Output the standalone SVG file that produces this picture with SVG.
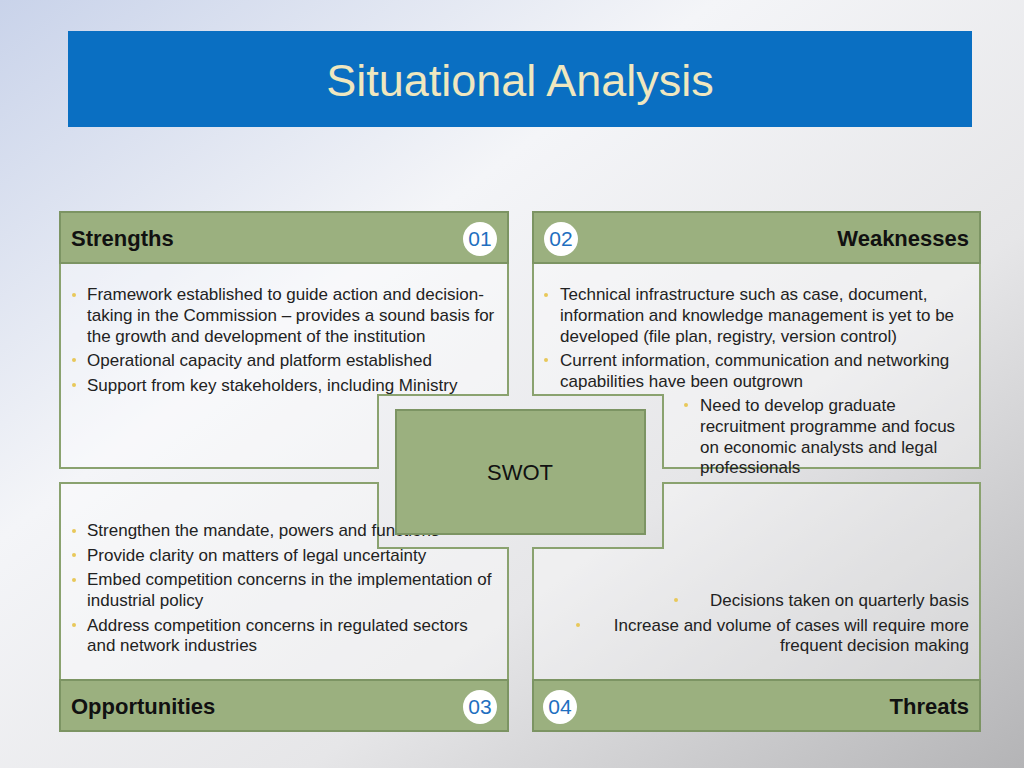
<svg xmlns="http://www.w3.org/2000/svg" width="1024" height="768" viewBox="0 0 1024 768">
<defs>
<linearGradient id="bg" x1="0" y1="0" x2="1" y2="1">
<stop offset="0" stop-color="#c9d3ea"/><stop offset="0.35" stop-color="#f4f5f8"/><stop offset="0.65" stop-color="#e6e6e8"/><stop offset="1" stop-color="#b4b4b6"/>
</linearGradient>
<style>
.hd{fill:#9bb07f;stroke:#7c9463;stroke-width:2}
.bd{fill:#ffffff;fill-opacity:0.35;stroke:#8aa26f;stroke-width:2}
.t{font-family:"Liberation Sans",Arial,sans-serif;font-size:17px;fill:#222}
.h{font-family:"Liberation Sans",Arial,sans-serif;font-size:22px;font-weight:bold;fill:#111}
.n{font-family:"Liberation Sans",Arial,sans-serif;font-size:21px;fill:#1f6fc0;text-anchor:middle}
.b{fill:#e8c85a}
</style>
</defs>
<rect width="1024" height="768" fill="url(#bg)"/>
<g id="title"><rect x="68" y="31" width="904" height="96" fill="#0a6fc2"/>
<text x="520" y="96" text-anchor="middle" font-family="Liberation Sans,Arial,sans-serif" font-size="45" fill="#efe7bf">Situational Analysis</text></g>
<g id="strengths">
<polygon class="bd" points="60,263 508,263 508,395 378,395 378,468 60,468"/>
<rect class="hd" x="60" y="212" width="448" height="51"/>
<text class="h" x="71" y="246">Strengths</text>
<circle cx="480" cy="239" r="17" fill="#fff"/><text class="n" x="480" y="246">01</text>
<circle class="b" cx="74" cy="295" r="2"/><circle class="b" cx="74" cy="360" r="2"/><circle class="b" cx="74" cy="385" r="2"/>
<text class="t" x="87" y="300">Framework established to guide action and decision-</text>
<text class="t" x="87" y="321">taking in the Commission – provides a sound basis for</text>
<text class="t" x="87" y="342">the growth and development of the institution</text>
<text class="t" x="87" y="366">Operational capacity and platform established</text>
<text class="t" x="87" y="391">Support from key stakeholders, including Ministry</text>
</g>
<g id="weaknesses">
<polygon class="bd" points="533,263 980,263 980,468 663,468 663,395 533,395"/>
<rect class="hd" x="533" y="212" width="447" height="51"/>
<text class="h" x="969" y="246" text-anchor="end">Weaknesses</text>
<circle cx="561" cy="239" r="17" fill="#fff"/><text class="n" x="561" y="246">02</text>
</g>
<g id="opportunities">
<polygon class="bd" points="60,483 378,483 378,548 508,548 508,680 60,680"/>
<rect class="hd" x="60" y="680" width="448" height="51"/>
<text class="h" x="71" y="714">Opportunities</text>
<circle cx="480" cy="707" r="17" fill="#fff"/><text class="n" x="480" y="714">03</text>
<circle class="b" cx="74" cy="531" r="2"/><circle class="b" cx="74" cy="555" r="2"/><circle class="b" cx="74" cy="580" r="2"/><circle class="b" cx="74" cy="625" r="2"/>
<text class="t" x="87" y="536">Strengthen the mandate, powers and functions</text>
<text class="t" x="87" y="561">Provide clarity on matters of legal uncertainty</text>
<text class="t" x="87" y="585">Embed competition concerns in the implementation of</text>
<text class="t" x="87" y="606">industrial policy</text>
<text class="t" x="87" y="631">Address competition concerns in regulated sectors</text>
<text class="t" x="87" y="651">and network industries</text>
</g>
<g id="threats">
<polygon class="bd" points="533,548 663,548 663,483 980,483 980,680 533,680"/>
<rect class="hd" x="533" y="680" width="447" height="51"/>
<text class="h" x="969" y="714" text-anchor="end">Threats</text>
<circle cx="560" cy="707" r="17" fill="#fff"/><text class="n" x="560" y="714">04</text>
<circle class="b" cx="676" cy="600" r="2"/><circle class="b" cx="578" cy="625" r="2"/>
<text class="t" x="969" y="606" text-anchor="end">Decisions taken on quarterly basis</text>
<text class="t" x="969" y="631" text-anchor="end">Increase and volume of cases will require more</text>
<text class="t" x="969" y="651" text-anchor="end">frequent decision making</text>
</g>
<g id="swot">
<rect x="396" y="410" width="249" height="124" fill="#9bb07f" stroke="#7c9463" stroke-width="2"/>
<text x="520" y="480" text-anchor="middle" font-family="Liberation Sans,Arial,sans-serif" font-size="22" fill="#111">SWOT</text>
</g>
<g id="weaknesses-text">
<circle class="b" cx="546" cy="295" r="2"/><circle class="b" cx="546" cy="360" r="2"/><circle class="b" cx="686" cy="405" r="2"/>
<text class="t" x="560" y="300">Technical infrastructure such as case, document,</text>
<text class="t" x="560" y="321">information and knowledge management is yet to be</text>
<text class="t" x="560" y="342">developed (file plan, registry, version control)</text>
<text class="t" x="560" y="366">Current information, communication and networking</text>
<text class="t" x="560" y="387">capabilities have been outgrown</text>
<text class="t" x="700" y="411">Need to develop graduate</text>
<text class="t" x="700" y="432">recruitment programme and focus</text>
<text class="t" x="700" y="453">on economic analysts and legal</text>
<text class="t" x="700" y="473">professionals</text>
</g>
<g id="connectors"/>
</svg>
